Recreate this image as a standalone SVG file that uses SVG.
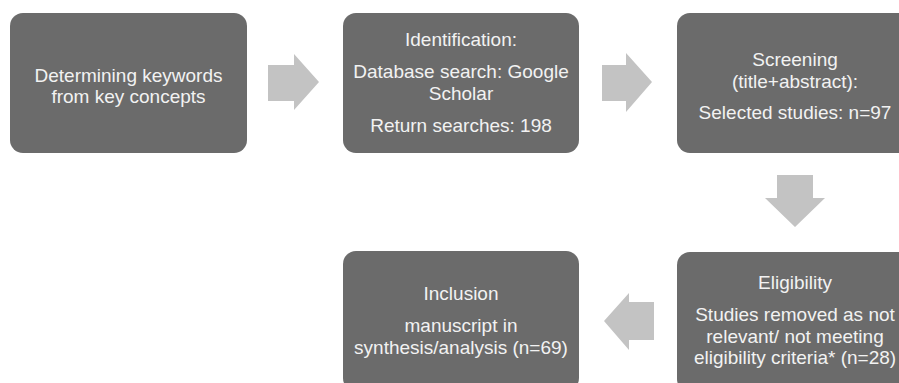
<svg xmlns="http://www.w3.org/2000/svg" width="899" height="383" viewBox="0 0 899 383">
<style>
.box{fill:#6b6b6b}
.arr{fill:#c3c3c3}
text{font-family:"Liberation Sans",Arial,sans-serif;font-size:19px;fill:#f2f2f2;text-anchor:middle}
</style>
<rect width="899" height="383" fill="#ffffff"/>
<g id="connectors">
<polygon class="arr" points="268,65 294,65 294,54 319,82 294,110 294,101 268,101"/>
<polygon class="arr" points="602,65 626,65 626,53 652,82 626,112 626,101 602,101"/>
<polygon class="arr" points="777,175 813,175 813,198 825,198 795,227 765,198 777,198"/>
<polygon class="arr" points="654,302 629,302 629,293 604,321 629,350 629,340 654,340"/>
</g>
<g id="node-keywords">
<rect class="box" x="10" y="13" width="237" height="140" rx="13"/>
<text x="128.5" y="81.5">Determining keywords</text>
<text x="128.5" y="102.5">from key concepts</text>
</g>
<g id="node-identification">
<rect class="box" x="343" y="13" width="236" height="140" rx="13"/>
<text x="461" y="45.5">Identification:</text>
<text x="461" y="78">Database search: Google</text>
<text x="461" y="100">Scholar</text>
<text x="461" y="131.5">Return searches: 198</text>
</g>
<g id="node-screening">
<rect class="box" x="677" y="13" width="236" height="140" rx="13"/>
<text x="795" y="65.5">Screening</text>
<text x="795" y="87.5">(title+abstract):</text>
<text x="795" y="118.5">Selected studies: n=97</text>
</g>
<g id="node-eligibility">
<rect class="box" x="677" y="252" width="236" height="140" rx="13"/>
<text x="795" y="288.5">Eligibility</text>
<text x="795" y="321">Studies removed as not</text>
<text x="795" y="342.5">relevant/ not meeting</text>
<text x="795" y="364">eligibility criteria* (n=28)</text>
</g>
<g id="node-inclusion">
<rect class="box" x="343" y="251" width="236" height="140" rx="13"/>
<text x="461" y="299.5">Inclusion</text>
<text x="461" y="331.5">manuscript in</text>
<text x="461" y="353.5">synthesis/analysis (n=69)</text>
</g>
</svg>
